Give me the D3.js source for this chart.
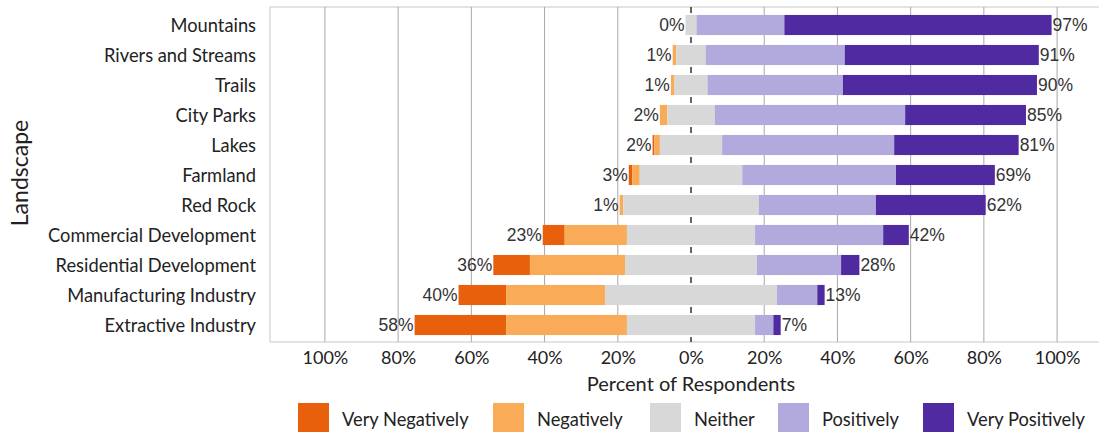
<!DOCTYPE html>
<html><head><meta charset="utf-8">
<script src="https://cdn.jsdelivr.net/npm/d3@7/dist/d3.min.js"></script>
<style>body{margin:0;background:#fff;}svg{display:block;}</style>
</head><body><svg id="c" width="1099" height="432"></svg>
<script>
const categories = ["Mountains","Rivers and Streams","Trails","City Parks","Lakes","Farmland","Red Rock","Commercial Development","Residential Development","Manufacturing Industry","Extractive Industry"];
const veryNegative = [0, 0, 0, 0, 0.5, 1, 0, 6, 10, 13, 25];
const negative     = [0, 1, 1, 2, 1.5, 2, 1, 17, 26, 27, 33];
const neither      = [3, 8, 9, 13, 17, 28, 37, 35, 36, 47, 35];
const positive     = [24, 38, 37, 52, 47, 42, 32, 35, 23, 11, 5];
const veryPositive = [73, 53, 53, 33, 34, 27, 30, 7, 5, 2, 2];
const negLabels = ["0%","1%","1%","2%","2%","3%","1%","23%","36%","40%","58%"];
const posLabels = ["97%","91%","90%","85%","81%","69%","62%","42%","28%","13%","7%"];
const tickValues = [-100,-80,-60,-40,-20,0,20,40,60,80,100];
const seriesNames = ["Very Negatively","Negatively","Neither","Positively","Very Positively"];
const colors = ["#e8600c","#f9ab58","#d8d8d8","#b2a9dc","#4f2aa0"];

const svg = d3.select("#c");
const x = d3.scaleLinear().domain([-115,115]).range([270,1112]);
const y = d3.scaleBand().domain(categories).range([10,340]).paddingInner(0.33).paddingOuter(0.165);
const F = "Lato, sans-serif";

// frame
svg.append("rect").attr("x",270).attr("y",7).attr("width",840).attr("height",335)
  .attr("fill","none").attr("stroke","#c8c8c8").attr("stroke-width",1);
// grid
svg.selectAll("line.grid").data(tickValues.filter(d=>d!==0)).join("line")
  .attr("x1",d=>x(d)).attr("x2",d=>x(d)).attr("y1",7).attr("y2",342)
  .attr("stroke","#a8a8a8").attr("stroke-width",1);
svg.append("line").attr("x1",x(0)).attr("x2",x(0)).attr("y1",7).attr("y2",342)
  .attr("stroke","#333").attr("stroke-width",1.5).attr("stroke-dasharray","6,4");

// stacked diverging segments
const rows = categories.map((c,i)=>{
  const vals=[veryNegative[i],negative[i],neither[i],positive[i],veryPositive[i]];
  let start = -(veryNegative[i]+negative[i]+neither[i]/2);
  const segs = vals.map((v,k)=>{const s={cat:c,k,x0:start,x1:start+v}; start+=v; return s;});
  return {cat:c,i,segs};
});
const g = svg.append("g");
rows.forEach(r=>{
  g.selectAll(null).data(r.segs.filter(s=>s.x1>s.x0)).join("rect")
    .attr("x",s=>x(s.x0)).attr("width",s=>x(s.x1)-x(s.x0))
    .attr("y",y(r.cat)).attr("height",y.bandwidth())
    .attr("fill",s=>colors[s.k]);
});
// value labels
svg.selectAll("text.neg").data(rows).join("text")
  .attr("x",r=>x(r.segs[0].x0)-1).attr("y",r=>y(r.cat)+y.bandwidth()/2)
  .attr("dy","0.36em").attr("text-anchor","end")
  .attr("font-family","Liberation Sans, Arial, sans-serif").attr("font-size",17.5).attr("fill","#333")
  .text(r=>negLabels[r.i]);
svg.selectAll("text.pos").data(rows).join("text")
  .attr("x",r=>x(r.segs[4].x1)+1).attr("y",r=>y(r.cat)+y.bandwidth()/2)
  .attr("dy","0.36em").attr("text-anchor","start")
  .attr("font-family","Liberation Sans, Arial, sans-serif").attr("font-size",17.5).attr("fill","#333")
  .text(r=>posLabels[r.i]);

// category labels
svg.selectAll("text.cat").data(categories).join("text")
  .attr("x",256).attr("y",c=>y(c)+y.bandwidth()/2).attr("dy","0.36em")
  .attr("text-anchor","end").attr("font-family",F).attr("font-size",18.3).attr("fill","#222")
  .text(c=>c);
svg.append("text").attr("transform","translate(28,173) rotate(-90)").attr("text-anchor","middle")
  .attr("font-family",F).attr("font-size",23).attr("fill","#222").text("Landscape");

// x axis
const ax = svg.append("g").attr("transform","translate(0,342)")
  .call(d3.axisBottom(x).tickValues(tickValues).tickSize(0).tickPadding(9).tickFormat(d=>Math.abs(d)+"%"));
ax.select(".domain").remove();
ax.selectAll("text").attr("font-family",F).attr("font-size",18).attr("fill","#222");
svg.append("text").attr("x",x(0)).attr("y",391).attr("text-anchor","middle")
  .attr("font-family",F).attr("font-size",20).attr("fill","#222").text("Percent of Respondents");

// legend
const legX = [298,493,650,778,923];
const leg = svg.selectAll("g.leg").data(seriesNames).join("g").attr("transform",(d,i)=>`translate(${legX[i]},403)`);
leg.append("rect").attr("width",31).attr("height",35).attr("fill",(d,i)=>colors[i]);
leg.append("text").attr("x",44).attr("y",16).attr("dy","0.36em")
  .attr("font-family",F).attr("font-size",18.3).attr("fill","#222").text(d=>d);
</script></body></html>
